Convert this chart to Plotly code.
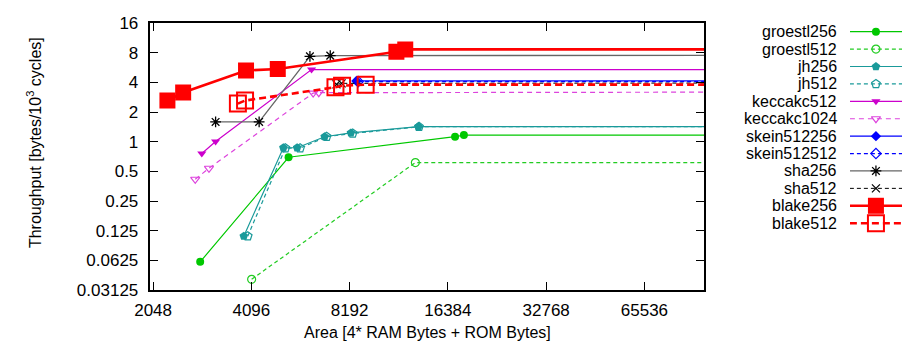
import plotly.graph_objects as go

# ---------------- data ----------------
x_ticks = [2048, 4096, 8192, 16384, 32768, 65536]
x_tick_labels = ["2048", "4096", "8192", "16384", "32768", "65536"]
y_ticks = [16, 8, 4, 2, 1, 0.5, 0.25, 0.125, 0.0625, 0.03125]
y_tick_labels = ["16", "8", "4", "2", "1", "0.5", "0.25", "0.125", "0.0625", "0.03125"]

# last point of each series lies beyond the axis range (line runs off the right edge)
groestl256_x = [2855, 5326, 17232, 18343, 200000]
groestl256_y = [0.0603, 0.696, 1.125, 1.168, 1.168]
groestl512_x = [4104, 13026, 200000]
groestl512_y = [0.0401, 0.615, 0.615]
jh256_x = [3883, 5134, 5657, 6868, 8265, 13318, 200000]
jh256_y = [0.110, 0.869, 0.869, 1.125, 1.23, 1.425, 1.425]
jh512_x = [3993, 5205, 5776, 6964, 8370, 13365, 200000]
jh512_y = [0.110, 0.86, 0.86, 1.125, 1.215, 1.42, 1.42]
keccakc512_x = [2888, 3183, 6263, 200000]
keccakc512_y = [0.76, 1.007, 5.41, 5.41]
keccakc1024_x = [2757, 3038, 6334, 6590, 200000]
keccakc1024_y = [0.416, 0.538, 3.12, 3.15, 3.2]
skein512256_x = [8593, 200000]
skein512256_y = [4.15, 4.15]
skein512512_x = [8700, 200000]
skein512512_y = [4.08, 4.08]
sha256_x = [3183, 4327, 6191, 7146, 200000]
sha256_y = [1.59, 1.59, 7.38, 7.49, 7.55]
sha512_x = [7465, 7740, 200000]
sha512_y = [3.82, 3.92, 3.95]
blake256_x = [2266, 2532, 3945, 4935, 11394, 12128, 200000]
blake256_y = [2.62, 3.16, 5.29, 5.49, 8.22, 8.67, 8.67]
blake512_x = [3725, 3918, 7413, 7766, 9172, 200000]
blake512_y = [2.44, 2.62, 3.58, 3.71, 3.80, 3.80]

names = ["groestl256", "groestl512", "jh256", "jh512", "keccakc512", "keccakc1024",
         "skein512256", "skein512512", "sha256", "sha512", "blake256", "blake512"]
xs = [groestl256_x, groestl512_x, jh256_x, jh512_x, keccakc512_x, keccakc1024_x,
      skein512256_x, skein512512_x, sha256_x, sha512_x, blake256_x, blake512_x]
ys = [groestl256_y, groestl512_y, jh256_y, jh512_y, keccakc512_y, keccakc1024_y,
      skein512256_y, skein512512_y, sha256_y, sha512_y, blake256_y, blake512_y]

# ---------------- styles ----------------
styles = [
    dict(lc="#00c800", lw=1.2, dash="solid", sym="circle", ms=8, mc="#00c800", mlw=0),
    dict(lc="#22cc22", lw=1.2, dash="4px,3px", sym="circle-open", ms=8, mc="#22cc22", mlw=1.2),
    dict(lc="#1a9a9a", lw=1.2, dash="solid", sym="pentagon", ms=9, mc="#1a9a9a", mlw=0),
    dict(lc="#1a9a9a", lw=1.2, dash="4px,3px", sym="pentagon-open", ms=9, mc="#1a9a9a", mlw=1.2),
    dict(lc="#cc00cc", lw=1.2, dash="solid", sym="triangle-down", ms=8, mc="#cc00cc", mlw=0),
    dict(lc="#dd44dd", lw=1.2, dash="5px,4px", sym="triangle-down-open", ms=8, mc="#dd44dd", mlw=1.2),
    dict(lc="#0000ff", lw=1.2, dash="solid", sym="diamond", ms=8, mc="#0000ff", mlw=0),
    dict(lc="#0000ff", lw=1.2, dash="4px,3px", sym="diamond-open", ms=8, mc="#0000ff", mlw=1.2),
    dict(lc="#666666", lw=1.3, dash="solid", sym="asterisk-open", ms=9, mc="#000000", mlw=1.3),
    dict(lc="#000000", lw=1.0, dash="4px,3px", sym="x-thin-open", ms=8, mc="#000000", mlw=1.2),
    dict(lc="#ff0000", lw=2.6, dash="solid", sym="square", ms=16, mc="#ff0000", mlw=0),
    dict(lc="#ff0000", lw=2.6, dash="7px,4px", sym="square-open", ms=16, mc="#ff0000", mlw=2),
]

W, H = 902, 352
PL, PR, PT, PB = 137, 701, 15, 297
FONT = "Liberation Sans, Arial, sans-serif"
FS = 17

fig = go.Figure()
for name, x, y, s in zip(names, xs, ys, styles):
    fig.add_trace(go.Scatter(
        x=x, y=y, name=name, mode="lines+markers", showlegend=False,
        line=dict(color=s["lc"], width=s["lw"], dash=s["dash"]),
        marker=dict(symbol=s["sym"], size=s["ms"], color=s["mc"],
                    line=dict(color=s["mc"], width=s["mlw"])),
        xaxis="x", yaxis="y", cliponaxis=True,
    ))

# ---------------- custom legend (text left, sample right) ----------------
LEG_Y0, LEG_DY = 24, 18.4
for i, (name, s) in enumerate(zip(names, styles)):
    yy = LEG_Y0 + i * LEG_DY
    fig.add_trace(go.Scatter(
        x=[0, 1], y=[yy, yy], mode="lines", showlegend=False, hoverinfo="skip",
        line=dict(color=s["lc"], width=s["lw"], dash=s["dash"]),
        xaxis="x2", yaxis="y2",
    ))
    fig.add_trace(go.Scatter(
        x=[0.5], y=[yy], mode="markers", showlegend=False, hoverinfo="skip",
        marker=dict(symbol=s["sym"], size=s["ms"], color=s["mc"],
                    line=dict(color=s["mc"], width=s["mlw"])),
        xaxis="x2", yaxis="y2",
    ))
    fig.add_annotation(x=838 / W, xref="paper", y=yy, yref="y2", text=name,
                       showarrow=False, xanchor="right", yanchor="middle",
                       font=dict(family=FONT, size=16, color="black"))

fig.add_annotation(x=20 / W, y=1 - 141 / H, xref="paper", yref="paper",
                   text="Throughput [bytes/10<sup>3</sup> cycles]", textangle=-90,
                   showarrow=False, xanchor="center", yanchor="middle",
                   font=dict(family=FONT, size=16, color="black"))
fig.add_annotation(x=(PL + PR) / 2 / W, y=1 - 342 / H, xref="paper", yref="paper",
                   text="Area [4* RAM Bytes + ROM Bytes]",
                   showarrow=False, xanchor="center", yanchor="middle",
                   font=dict(family=FONT, size=16, color="black"))

axis_common = dict(showgrid=False, zeroline=False, ticks="inside", ticklen=8, tickwidth=1.2,
                   tickcolor="black", showline=True, linecolor="black", linewidth=2,
                   mirror="ticks", tickfont=dict(family=FONT, size=FS, color="black"))

fig.update_layout(
    width=W, height=H, margin=dict(l=0, r=0, t=0, b=0),
    paper_bgcolor="white", plot_bgcolor="white", showlegend=False,
    xaxis=dict(type="log", range=[3.30103, 5.0], domain=[PL / W, PR / W],
               tickvals=x_ticks, ticktext=x_tick_labels, anchor="y",
               ticklabelstandoff=4, **axis_common),
    yaxis=dict(type="log", range=[-1.50515, 1.20412], domain=[1 - PB / H, 1 - PT / H],
               tickvals=y_ticks, ticktext=y_tick_labels, anchor="x",
               ticklabelstandoff=6, **axis_common),
    xaxis2=dict(domain=[849 / W, 1.0], range=[0, 1], visible=False, anchor="y2"),
    yaxis2=dict(domain=[0, 1], range=[H, 0], visible=False, anchor="x2"),
)

fig.write_html("out.html")
